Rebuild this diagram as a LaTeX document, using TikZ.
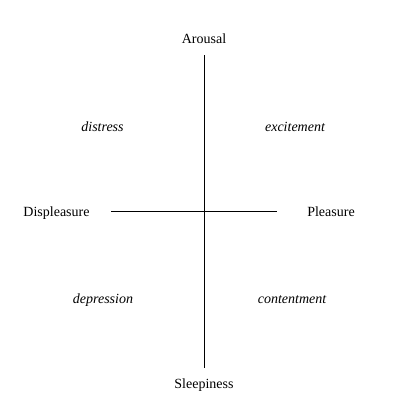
\documentclass[tikz,border=0pt]{standalone}
\usepackage{fontspec}
\setmainfont{Liberation Serif}

\begin{document}
\begin{tikzpicture}[x=1pt,y=-1pt]
	\tikzstyle{axis}=[font=\fontsize{14}{16}\selectfont, anchor=base, inner sep=0pt]
	\tikzstyle{emotion}=[axis, font=\fontsize{14}{16}\selectfont\itshape]
	\useasboundingbox (0,0) rectangle (409,416);
		\node[axis] (arousal) at (204,43) {Arousal};
		\node[axis] (sleepiness) at (204,388) {Sleepiness};
		\node[axis] (displeasure) at (56.5,216.5) {Displeasure};
		\node[axis] (pleasure) at (331,216.5) {Pleasure};
		\node[emotion] (distress) at (102.5,131.5) {distress};
		\node[emotion] (excitement) at (295,131.5) {excitement};
		\node[emotion] (depression) at (103,303) {depression};
		\node[emotion] (contentment) at (292,303) {contentment};
		\coordinate (top) at (204,55);
		\coordinate (bottom) at (204,368);
		\coordinate (left) at (111,211.5);
		\coordinate (right) at (277,211.5);
			\draw[line width=0.8pt] (top) -- (bottom);
			\draw[line width=0.8pt] (left) -- (right);
\end{tikzpicture}
\end{document}
